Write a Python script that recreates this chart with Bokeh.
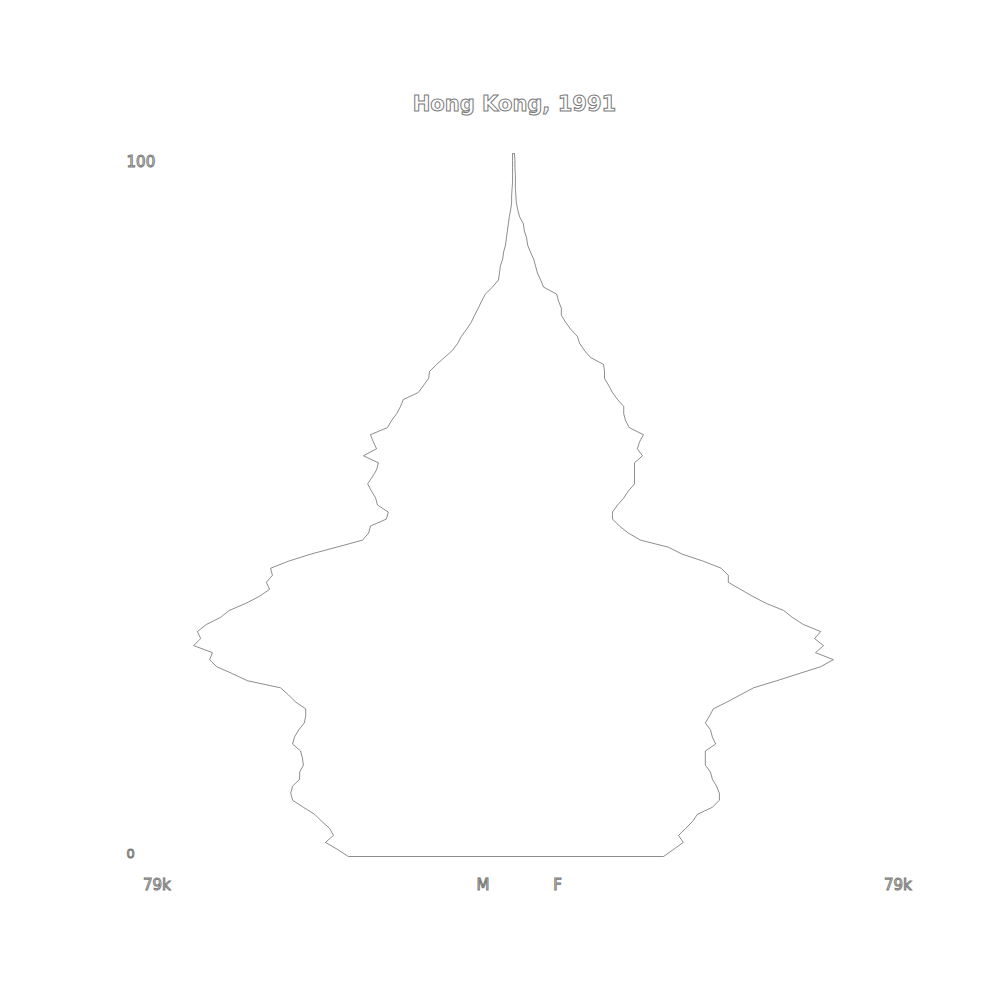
from bokeh.plotting import figure
from bokeh.models import ColumnDataSource, Range1d
from bokeh.core.properties import value
from bokeh.embed import file_html
from bokeh.resources import INLINE

TITLE = "Hong Kong, 1991"
ages = list(range(0, 101))
# population in thousands, single year of age 0..100
male_k = [35.2, 37.5, 40.1, 38.4, 39.2, 40.9, 42.4, 44.8, 47.1, 47.5,
          47.1, 45.6, 45.6, 44.8, 45.0, 45.4, 47.1, 46.7, 45.8, 44.6,
          44.3, 44.3, 46.5, 48.0, 49.7, 56.7, 59.9, 63.3, 64.8, 64.2,
          68.2, 66.7, 67.4, 65.5, 62.5, 60.6, 57.1, 54.2, 52.0, 52.7,
          51.4, 51.8, 48.0, 43.3, 37.7, 32.2, 30.9, 30.5, 27.1, 26.7,
          29.0, 29.4, 30.3, 31.1, 30.1, 29.2, 28.8, 32.0, 29.2, 29.9,
          30.5, 26.9, 26.0, 24.9, 24.1, 23.5, 20.3, 19.2, 18.1, 17.9,
          16.4, 14.7, 13.0, 11.9, 11.1, 10.0, 9.0, 8.3, 7.5, 6.8,
          6.0, 4.5, 3.2, 3.0, 2.8, 2.3, 2.1, 1.7, 1.5, 1.3,
          1.1, 0.9, 0.6, 0.4, 0.4, 0.3, 0.2, 0.2, 0.2, 0.2, 0.2]
female_k = [32.0, 34.1, 36.2, 35.2, 36.7, 38.2, 39.2, 42.4, 43.9, 43.9,
            43.3, 42.4, 42.0, 40.9, 40.9, 40.9, 43.1, 42.4, 42.0, 40.9,
            41.8, 42.6, 45.6, 48.4, 51.2, 56.1, 60.8, 65.5, 68.2, 64.4,
            66.1, 64.2, 65.5, 61.8, 59.5, 57.6, 53.9, 51.0, 48.4, 45.8,
            45.8, 44.3, 40.5, 36.0, 33.0, 27.1, 24.5, 22.6, 21.1, 21.1,
            22.2, 23.5, 24.5, 25.8, 25.8, 25.8, 25.8, 27.5, 26.4, 26.9,
            27.7, 24.7, 23.9, 23.5, 23.5, 22.2, 21.1, 20.3, 19.4, 19.4,
            19.2, 16.4, 15.1, 14.1, 13.6, 12.2, 11.1, 10.2, 10.2, 9.6,
            9.2, 6.4, 5.8, 5.1, 4.7, 4.3, 3.6, 3.0, 2.8, 2.3,
            2.1, 1.3, 0.9, 0.6, 0.5, 0.4, 0.4, 0.4, 0.3, 0.3, 0.2]
age_tick_labels = ["0", "100"]
x_tick_label = "79k"
x_max_k = 79
sex_labels = ["M", "F"]

# layout scale (pixels per unit)
W, H = 1000, 1000
cx, sx = 513.0, 4.69       # centre pixel, px per thousand
y0, sy = 856.0, 7.03       # pixel row of age 0, px per year

p = figure(width=W, height=H, output_backend="svg", toolbar_location=None,
           x_range=Range1d(-cx / sx, (W - cx) / sx),
           y_range=Range1d(-(H - y0) / sy, y0 / sy),
           min_border=0, outline_line_color=None,
           background_fill_color="white", border_fill_color="white")
p.axis.visible = False
p.grid.visible = False

xs = [-m for m in male_k] + [f for f in female_k[::-1]]
ys = ages + ages[::-1]
p.patch(xs, ys, fill_color="white", line_color="#333333", line_width=0.7, line_alpha=0.8)

def lbl(x, y, t, size, align="left", bold=False):
    p.text(x=[x], y=[y], text=[t], text_font=value("DejaVu Sans"),
           text_font_size=size, text_align=align, text_baseline="middle",
           text_font_style="bold" if bold else "normal",
           text_color="white", text_outline_color="#7a7a7a")

lbl(0.2, (y0 - 103) / sy, TITLE, "21px", align="center", bold=True)
lbl(-82.5, 99.0, age_tick_labels[1], "15px")
lbl(-82.5, 0.4, age_tick_labels[0], "13px")
xl_y = (y0 - 884) / sy
lbl(-x_max_k, xl_y, x_tick_label, "15px")
lbl(x_max_k, xl_y, x_tick_label, "15px")
lbl(-7.9, xl_y, sex_labels[0], "15px")
lbl(8.5, xl_y, sex_labels[1], "15px")

open("out.html", "w").write(file_html(p, INLINE))
